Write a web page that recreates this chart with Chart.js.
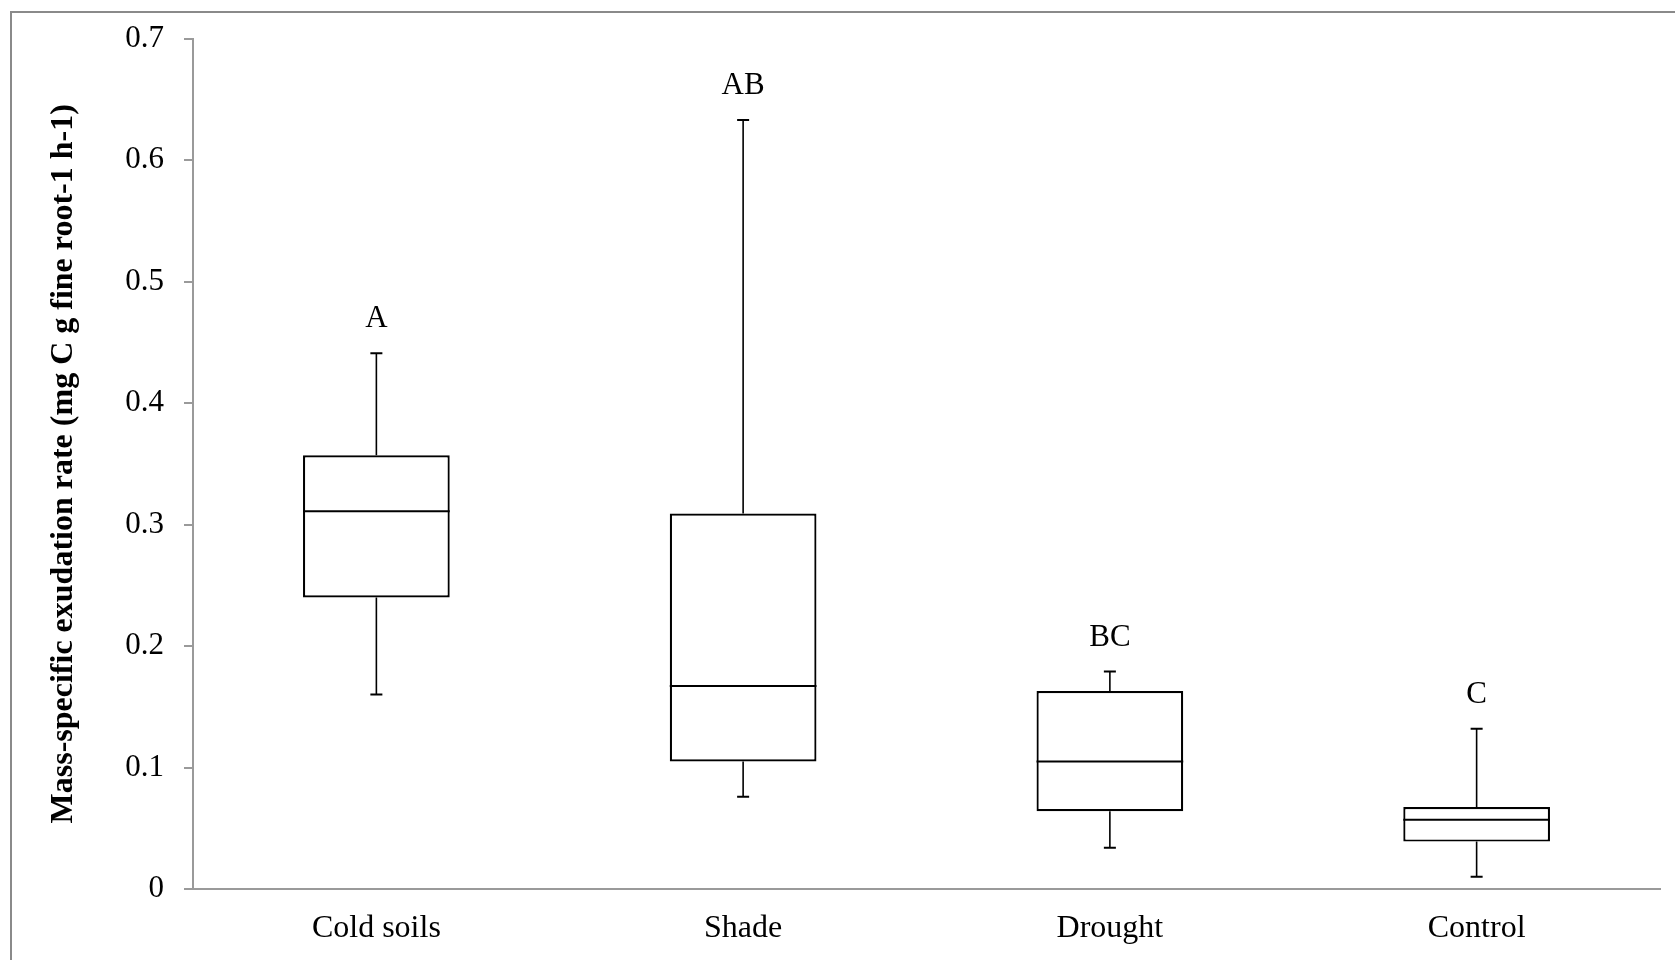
<!DOCTYPE html>
<html>
<head>
<meta charset="utf-8">
<script src="https://cdn.jsdelivr.net/npm/chart.js@4.4.0/dist/chart.umd.min.js"></script>
<style>
	html, body { margin: 0; padding: 0; background: #ffffff; }
	#wrap { width: 1675px; height: 960px; }
</style>
</head>
<body>
<div id="wrap"><canvas id="exudation" width="1675" height="960"></canvas></div>
<script>
// Box plot values (mg C g fine root-1 h-1).
var categories = [ 'Cold soils', 'Shade', 'Drought', 'Control' ];
var mins       = [ 0.160, 0.076, 0.034, 0.010 ];
var q1s        = [ 0.240, 0.105, 0.064, 0.039 ];
var medians    = [ 0.311, 0.167, 0.105, 0.057 ];
var q3s        = [ 0.357, 0.309, 0.163, 0.0675 ];
var maxs       = [ 0.441, 0.633, 0.179, 0.132 ];
var letters    = [ 'A', 'AB', 'BC', 'C' ];

var serif = "'Liberation Serif', 'Times New Roman', serif";
var axisGrey = '#9a9a9a';

// Floating bars give the boxes; whiskers, medians and letters are added here.
var boxExtras = {
	id: 'boxExtras',
	beforeDraw: function ( chart ) {
		var ctx = chart.ctx;
		ctx.save();
		ctx.strokeStyle = '#8a8a8a';
		ctx.lineWidth = 2;
		ctx.beginPath();
		ctx.moveTo( 11, chart.height );
		ctx.lineTo( 11, 12 );
		ctx.lineTo( chart.width, 12 );
		ctx.stroke();
		ctx.restore();
	},
	afterDatasetsDraw: function ( chart ) {
		var ctx  = chart.ctx;
		var y    = chart.scales.y;
		var meta = chart.getDatasetMeta( 0 );
		ctx.save();
		ctx.strokeStyle = '#000000';
		meta.data.forEach( function ( bar, i ) {
			var cx   = bar.x;
			var half = bar.width / 2;
			var cap  = 6;

			// whiskers
			ctx.lineWidth = 1.6;
			ctx.beginPath();
			ctx.moveTo( cx, y.getPixelForValue( q3s[ i ] ) );
			ctx.lineTo( cx, y.getPixelForValue( maxs[ i ] ) );
			ctx.moveTo( cx, y.getPixelForValue( q1s[ i ] ) );
			ctx.lineTo( cx, y.getPixelForValue( mins[ i ] ) );
			ctx.stroke();

			// caps
			ctx.lineWidth = 2;
			ctx.beginPath();
			ctx.moveTo( cx - cap, y.getPixelForValue( maxs[ i ] ) );
			ctx.lineTo( cx + cap, y.getPixelForValue( maxs[ i ] ) );
			ctx.moveTo( cx - cap, y.getPixelForValue( mins[ i ] ) );
			ctx.lineTo( cx + cap, y.getPixelForValue( mins[ i ] ) );
			ctx.stroke();

			// median
			ctx.beginPath();
			ctx.moveTo( cx - half, y.getPixelForValue( medians[ i ] ) );
			ctx.lineTo( cx + half, y.getPixelForValue( medians[ i ] ) );
			ctx.stroke();

			// significance letters
			ctx.fillStyle = '#000000';
			ctx.font = '31px ' + serif;
			ctx.textAlign = 'center';
			ctx.textBaseline = 'middle';
			ctx.fillText( letters[ i ], cx, y.getPixelForValue( maxs[ i ] ) - 34 );
		} );
		ctx.restore();
	}
};

var config = {
	type: 'bar',
	data: {
		labels: categories,
		datasets: [
			{
				label: 'Exudation',
				data: categories.map( function ( c, i ) {
					return [ q1s[ i ], q3s[ i ] ];
				} ),
				backgroundColor: '#ffffff',
				borderColor: '#000000',
				borderWidth: 2.2,
				borderSkipped: false,
				barPercentage: 0.4,
				categoryPercentage: 1.0,
			},
		],
	},
	plugins: [ boxExtras ],
	options: {
		responsive: false,
		devicePixelRatio: 1,
		animation: false,
		layout: {
			padding: { left: 45, top: 36, right: 15, bottom: 0 },
		},
		plugins: {
			legend: { display: false },
			tooltip: { enabled: false },
		},
		scales: {
			x: {
				afterFit: function ( scale ) {
					scale.height = 71;
				},
				grid: {
					drawOnChartArea: false,
					drawTicks: false,
				},
				border: { color: axisGrey, width: 2 },
				ticks: {
					color: '#000000',
					padding: 20,
					font: { family: serif, size: 32 },
				},
			},
			y: {
				min: 0,
				max: 0.7,
				afterFit: function ( scale ) {
					scale.width = 148;
				},
				grid: {
					drawOnChartArea: false,
					drawTicks: true,
					tickLength: 9,
					color: axisGrey,
					lineWidth: 2,
				},
				border: { color: axisGrey, width: 2 },
				ticks: {
					stepSize: 0.1,
					color: '#000000',
					padding: 20,
					font: { family: serif, size: 31 },
					callback: function ( value ) {
						return Math.round( value * 10 ) / 10;
					},
				},
				title: {
					display: true,
					text: 'Mass-specific exudation rate (mg C g fine root-1 h-1)',
					color: '#000000',
					padding: 0,
					font: { family: serif, size: 32, weight: 'bold' },
				},
			},
		},
	},
};

window.exudationChart = new Chart( document.getElementById( 'exudation' ), config );
</script>
</body>
</html>
